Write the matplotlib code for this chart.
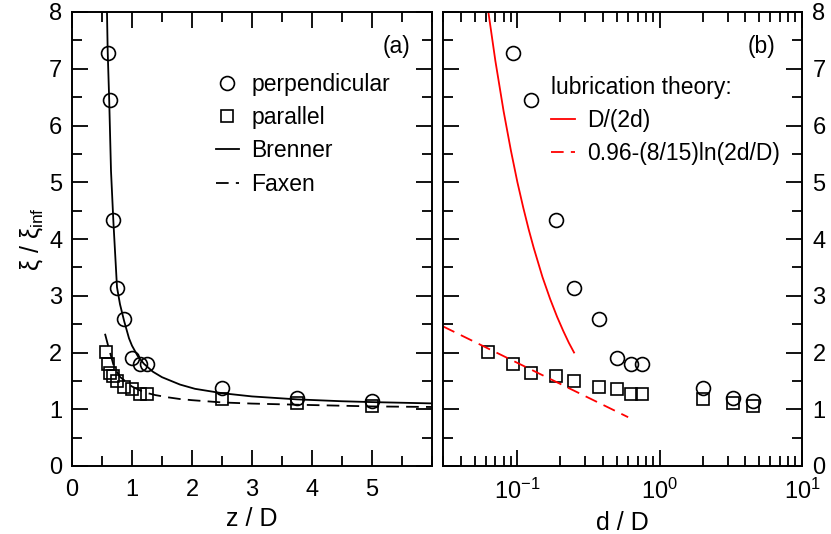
import numpy as np
import matplotlib
matplotlib.use('Agg')
import matplotlib.pyplot as plt
from matplotlib.ticker import MultipleLocator, LogLocator, NullFormatter

plt.rcParams['font.family'] = ['Liberation Sans', 'DejaVu Sans']
plt.rcParams['mathtext.fontset'] = 'custom'
plt.rcParams['mathtext.rm'] = 'Liberation Sans'
plt.rcParams['mathtext.it'] = 'Liberation Sans'
plt.rcParams['mathtext.bf'] = 'Liberation Sans:bold'

# gap d/D of the measured points
d_perp = [0.09375, 0.125, 0.1875, 0.25, 0.375, 0.5, 0.625, 0.75, 2.0, 3.25, 4.5]
xi_perp = [7.28, 6.45, 4.33, 3.13, 2.59, 1.90, 1.79, 1.79, 1.37, 1.19, 1.15]
d_par = [0.0625, 0.09375, 0.125, 0.1875, 0.25, 0.375, 0.5, 0.625, 0.75, 2.0, 3.25, 4.5]
xi_par = [2.01, 1.79, 1.63, 1.58, 1.49, 1.39, 1.35, 1.26, 1.27, 1.18, 1.11, 1.05]

# centre height z/D = d/D + 1/2
z_perp = [d + 0.5 for d in d_perp]
z_par = [d + 0.5 for d in d_par]

# theory curves
brenner_z = [0.583, 0.595, 0.62, 0.65, 0.69, 0.75, 0.8, 0.87, 0.95, 1.0, 1.1, 1.2,
             1.35, 1.5, 1.8, 2.05, 2.5, 3.0, 3.75, 4.5, 5.0, 6.0]
brenner_xi = [8.0, 7.3, 6.45, 5.2, 4.3, 3.15, 2.85, 2.55, 2.25, 2.12, 1.93, 1.80,
              1.66, 1.565, 1.435, 1.36, 1.283, 1.226, 1.174, 1.141, 1.126, 1.103]
faxen_z = [0.55, 0.607, 0.7, 0.8, 1.0, 1.2, 1.387, 1.6, 1.8, 2.0, 2.5, 3.0, 3.75, 5.0, 6.0]
faxen_xi = [2.33, 2.10, 1.75, 1.57, 1.40, 1.30, 1.25, 1.21, 1.18, 1.16, 1.12, 1.10, 1.08, 1.05, 1.04]

lub_perp_d = [0.0625, 0.07, 0.08, 0.09, 0.1, 0.11, 0.12, 0.13, 0.15, 0.17, 0.19, 0.21, 0.23, 0.25]
lub_perp_xi = [8.0, 7.14, 6.25, 5.56, 5.0, 4.55, 4.17, 3.85, 3.33, 2.94, 2.63, 2.38, 2.17, 2.0]
lub_par_d = [0.03, 0.6]
lub_par_xi = [2.46, 0.86]

W, H = 831, 534
fig = plt.figure(figsize=(W / 100, H / 100), dpi=100)
ax1 = fig.add_axes([72 / W, 1 - 466 / H, 360 / W, 454 / H])
ax2 = fig.add_axes([443 / W, 1 - 466 / H, 359 / W, 454 / H])

dash = (7, 4)
lw = 1.3
circ = dict(marker='o', ms=10, mfc='none', mec='black', mew=1.2, ls='none')
sq = dict(marker='s', ms=8, mfc='none', mec='black', mew=1.2, ls='none')

# panel (a)
ax1.plot(z_perp, xi_perp, label='perpendicular', **circ)
ax1.plot(z_par, xi_par, label='parallel', **sq)
ax1.plot(brenner_z, brenner_xi, color='black', lw=lw, label='Brenner')
ax1.plot(faxen_z, faxen_xi, color='black', lw=lw, dashes=dash, label='Faxen')
ax1.set_xlim(0, 6)
ax1.set_ylim(0, 8)
ax1.xaxis.set_major_locator(MultipleLocator(1))
ax1.xaxis.set_minor_locator(MultipleLocator(0.5))
ax1.set_xticks([0, 1, 2, 3, 4, 5])
ax1.yaxis.set_major_locator(MultipleLocator(1))
ax1.yaxis.set_minor_locator(MultipleLocator(0.5))
ax1.set_xlabel('z / D', fontsize=18, labelpad=5)
ax1.set_ylabel(r'$\xi$ / $\xi_{\mathrm{inf}}$', fontsize=18, labelpad=3)
ax1.text(0.94, 0.923, '(a)', transform=ax1.transAxes, ha='right', va='center', fontsize=16.5)
ax1.legend(loc='upper left', bbox_to_anchor=(0.40, 0.866), frameon=False, fontsize=16.5,
           borderpad=0, borderaxespad=0, handlelength=1.0, handletextpad=0.55,
           labelspacing=0.45, numpoints=1)

# panel (b)
ax2.plot(d_perp, xi_perp, **circ)
ax2.plot(d_par, xi_par, **sq)
ax2.plot(lub_perp_d, lub_perp_xi, color='red', lw=lw, label='D/(2d)')
ax2.plot(lub_par_d, lub_par_xi, color='red', lw=lw, dashes=dash, label='0.96-(8/15)ln(2d/D)')
ax2.set_xscale('log')
ax2.set_xlim(0.03, 10)
ax2.set_ylim(0, 8)
ax2.xaxis.set_major_locator(LogLocator(base=10, numticks=10))
ax2.xaxis.set_minor_locator(LogLocator(base=10, subs=np.arange(2, 10), numticks=20))
ax2.xaxis.set_minor_formatter(NullFormatter())
ax2.yaxis.set_major_locator(MultipleLocator(1))
ax2.yaxis.set_minor_locator(MultipleLocator(0.5))
ax2.set_xlabel('d / D', fontsize=18, labelpad=5)
ax2.text(0.925, 0.923, '(b)', transform=ax2.transAxes, ha='right', va='center', fontsize=16.5)
leg = ax2.legend(loc='upper left', bbox_to_anchor=(0.30, 0.860), frameon=False, fontsize=16.5,
                 title='lubrication theory:', title_fontsize=16.5, alignment='left',
                 borderpad=0, borderaxespad=0, handlelength=1.05, handletextpad=0.55,
                 labelspacing=0.45)

for ax in (ax1, ax2):
    ax.tick_params(which='both', direction='in', top=True, right=True, labelsize=17, width=1.3)
    ax.tick_params(which='major', length=11.5)
    ax.tick_params(which='minor', length=7.5)
    for s in ax.spines.values():
        s.set_linewidth(1.4)
ax1.tick_params(axis='y', pad=7)
ax1.tick_params(axis='x', pad=9)
ax2.tick_params(axis='y', labelleft=False, labelright=True, pad=7.5)
ax2.tick_params(axis='x', pad=9)

fig.savefig('out.png', dpi=100)
